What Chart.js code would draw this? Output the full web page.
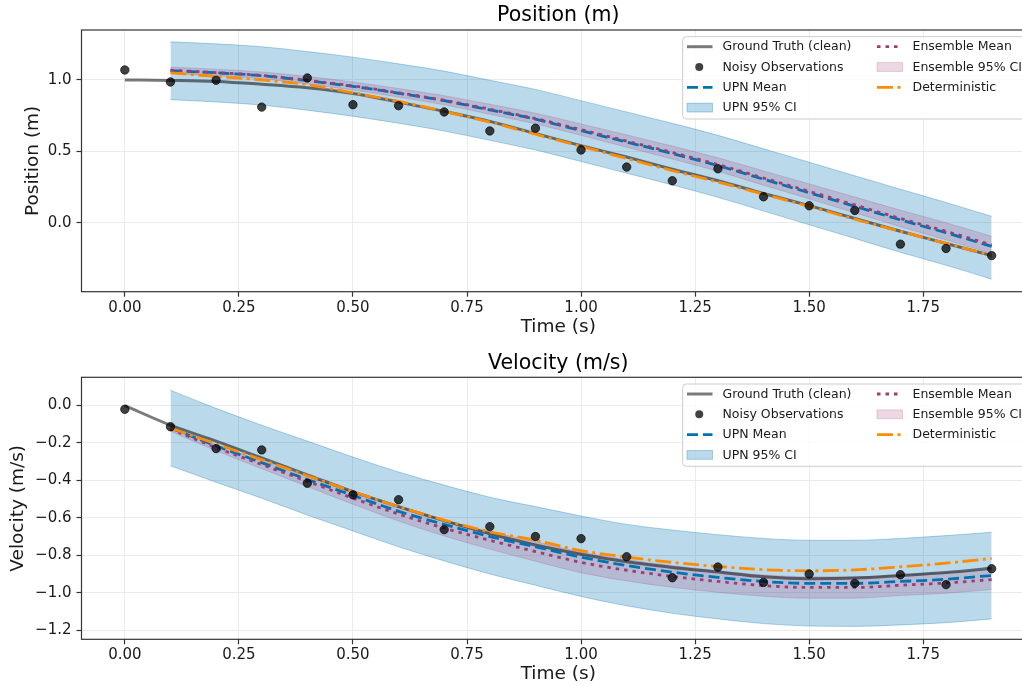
<!DOCTYPE html>
<html>
<head>
<meta charset="utf-8">
<title>Position and velocity estimates</title>
<script src="https://cdn.jsdelivr.net/npm/chart.js@4.4.1/dist/chart.umd.min.js"></script>
<style>
  html, body { margin: 0; padding: 0; background: #ffffff; overflow: hidden; width: 1022px; height: 686px; }
  canvas { display: block; }
</style>
</head>
<body>
<canvas id="posChart" width="1040" height="343"></canvas>
<canvas id="velChart" width="1040" height="343"></canvas>
<script>
// ---- sample times ----
const obsTimes   = [0.0, 0.1, 0.2, 0.3, 0.4, 0.5, 0.6, 0.7, 0.8, 0.9, 1.0, 1.1, 1.2, 1.3, 1.4, 1.5, 1.6, 1.7, 1.8, 1.9];
const modelTimes = [0.1, 0.2, 0.3, 0.4, 0.5, 0.6, 0.7, 0.8, 0.9, 1.0, 1.1, 1.2, 1.3, 1.4, 1.5, 1.6, 1.7, 1.8, 1.9];

// ---- tick labels ----
const timeTicks = [0.0, 0.25, 0.5, 0.75, 1.0, 1.25, 1.5, 1.75];
const posTicks  = [0.0, 0.5, 1.0];
const velTicks  = [0.0, -0.2, -0.4, -0.6, -0.8, -1.0, -1.2];

// ---- position (m) ----
const posTruth = [1.0, 0.997, 0.99, 0.97, 0.945, 0.905, 0.845, 0.78, 0.71, 0.625, 0.54, 0.46, 0.375, 0.295, 0.205, 0.12, 0.03, -0.06, -0.145, -0.23];
const posObs   = [1.07, 0.986, 0.998, 0.81, 1.014, 0.827, 0.82, 0.776, 0.643, 0.662, 0.51, 0.39, 0.294, 0.378, 0.182, 0.119, 0.086, -0.15, -0.18, -0.23];
const posUpnMean = [1.065, 1.05, 1.03, 0.995, 0.955, 0.907, 0.855, 0.79, 0.725, 0.645, 0.565, 0.485, 0.40, 0.305, 0.21, 0.115, 0.02, -0.07, -0.165];
const posUpnHi   = [1.267, 1.253, 1.233, 1.199, 1.16, 1.113, 1.062, 0.998, 0.934, 0.855, 0.776, 0.696, 0.612, 0.518, 0.424, 0.329, 0.235, 0.142, 0.045];
const posUpnLo   = [0.862, 0.846, 0.824, 0.788, 0.746, 0.697, 0.643, 0.577, 0.51, 0.429, 0.347, 0.265, 0.178, 0.082, -0.014, -0.11, -0.207, -0.298, -0.395];
const posEnsMean = [1.068, 1.052, 1.032, 0.998, 0.958, 0.91, 0.858, 0.795, 0.73, 0.652, 0.572, 0.492, 0.408, 0.313, 0.22, 0.125, 0.03, -0.06, -0.155];
const posEnsHi   = [1.09, 1.075, 1.056, 1.024, 0.986, 0.94, 0.89, 0.83, 0.767, 0.692, 0.615, 0.537, 0.455, 0.363, 0.272, 0.18, 0.088, 0.0, -0.095];
const posEnsLo   = [1.046, 1.029, 1.008, 0.972, 0.93, 0.88, 0.826, 0.76, 0.693, 0.612, 0.529, 0.447, 0.361, 0.263, 0.168, 0.07, -0.028, -0.12, -0.215];
const posDet     = [1.05, 1.025, 1.0, 0.967, 0.91, 0.85, 0.78, 0.705, 0.62, 0.535, 0.45, 0.365, 0.285, 0.20, 0.115, 0.025, -0.06, -0.145, -0.23];

// ---- velocity (m/s) ----
const velTruth = [0.0, -0.105, -0.19, -0.28, -0.37, -0.46, -0.54, -0.615, -0.685, -0.745, -0.795, -0.835, -0.865, -0.89, -0.915, -0.925, -0.922, -0.908, -0.892, -0.869];
const velObs   = [-0.02, -0.113, -0.23, -0.237, -0.415, -0.477, -0.503, -0.663, -0.647, -0.70, -0.711, -0.808, -0.92, -0.863, -0.945, -0.90, -0.95, -0.904, -0.957, -0.872];
const velUpnMean = [-0.12, -0.215, -0.305, -0.395, -0.48, -0.565, -0.635, -0.70, -0.755, -0.81, -0.855, -0.89, -0.918, -0.94, -0.95, -0.95, -0.94, -0.928, -0.908];
const velUpnHi   = [0.082, -0.015, -0.105, -0.19, -0.275, -0.355, -0.425, -0.49, -0.54, -0.59, -0.635, -0.665, -0.69, -0.71, -0.72, -0.72, -0.71, -0.695, -0.677];
const velUpnLo   = [-0.322, -0.41, -0.495, -0.585, -0.67, -0.755, -0.83, -0.90, -0.96, -1.02, -1.07, -1.11, -1.14, -1.165, -1.178, -1.18, -1.172, -1.16, -1.14];
const velEnsMean = [-0.125, -0.225, -0.315, -0.405, -0.495, -0.58, -0.655, -0.72, -0.78, -0.838, -0.88, -0.913, -0.94, -0.962, -0.972, -0.972, -0.96, -0.948, -0.93];
const velEnsHi   = [-0.113, -0.208, -0.293, -0.378, -0.463, -0.543, -0.613, -0.673, -0.728, -0.783, -0.823, -0.855, -0.882, -0.905, -0.915, -0.915, -0.905, -0.893, -0.877];
const velEnsLo   = [-0.137, -0.242, -0.337, -0.432, -0.527, -0.617, -0.697, -0.767, -0.832, -0.893, -0.937, -0.971, -0.998, -1.019, -1.029, -1.029, -1.015, -1.003, -0.983];
const velDet     = [-0.12, -0.205, -0.29, -0.375, -0.46, -0.54, -0.612, -0.675, -0.72, -0.775, -0.81, -0.838, -0.86, -0.877, -0.883, -0.878, -0.862, -0.842, -0.817];

// ---- styles ----
const FONT = "'DejaVu Sans', 'Liberation Sans', sans-serif";
Chart.defaults.font.family = FONT;
Chart.defaults.color = '#1a1a1a';

const style = {
  truth: { color: 'rgba(0,0,0,0.52)', width: 3 },
  obs:   { fill: 'rgba(0,0,0,0.74)', edge: 'rgba(0,0,0,0.85)', radius: 4.2 },
  upn:   { color: '#0072B2', width: 2.8, dash: [11, 5] },
  upnCI: { fill: 'rgba(0,114,178,0.27)', edge: 'rgba(0,114,178,0.3)' },
  ens:   { color: '#A23B72', width: 2.8, dash: [3.5, 5] },
  ensCI: { fill: 'rgba(162,59,114,0.2)', edge: 'rgba(162,59,114,0.22)' },
  det:   { color: '#FF8C00', width: 2.8, dash: [16, 4.5, 3, 4.5] }
};

const fmt = (v, d) => Number(v).toFixed(d).replace('-', '\u2212');
const pts = (xs, ys) => xs.map((x, i) => ({ x: x, y: ys[i] }));

// Legend entries laid out in two columns, as drawn inside each panel
const legendItems = [
  { label: 'Ground Truth (clean)', kind: 'line',   s: style.truth, col: 0, row: 0 },
  { label: 'Noisy Observations',   kind: 'marker', s: style.obs,   col: 0, row: 1 },
  { label: 'UPN Mean',             kind: 'line',   s: style.upn,   col: 0, row: 2 },
  { label: 'UPN 95% CI',           kind: 'patch',  s: style.upnCI, col: 0, row: 3 },
  { label: 'Ensemble Mean',        kind: 'line',   s: style.ens,   col: 1, row: 0 },
  { label: 'Ensemble 95% CI',      kind: 'patch',  s: style.ensCI, col: 1, row: 1 },
  { label: 'Deterministic',        kind: 'line',   s: style.det,   col: 1, row: 2 }
];

const pairedLegend = {
  id: 'pairedLegend',
  afterDraw(chart) {
    const { ctx, chartArea } = chart;
    const top = chartArea.top + 6.7;
    const colX = [687, 877];
    const handleLen = 25.5;
    ctx.save();
    ctx.beginPath();
    ctx.roundRect(682.7, top, 346, 82.3, 3.5);
    ctx.fillStyle = 'rgba(255,255,255,0.8)';
    ctx.fill();
    ctx.strokeStyle = '#cccccc';
    ctx.lineWidth = 1;
    ctx.stroke();
    ctx.font = '12.5px ' + FONT;
    ctx.textBaseline = 'middle';
    ctx.textAlign = 'left';
    legendItems.forEach(item => {
      const y = top + 10 + item.row * 20.3;
      const x0 = colX[item.col];
      const x1 = x0 + handleLen;
      const s = item.s;
      if (item.kind === 'line') {
        ctx.beginPath();
        ctx.setLineDash(s.dash || []);
        ctx.lineCap = 'butt';
        ctx.strokeStyle = s.color;
        ctx.lineWidth = s.width;
        ctx.moveTo(x0, y);
        ctx.lineTo(x1, y);
        ctx.stroke();
        ctx.setLineDash([]);
      } else if (item.kind === 'marker') {
        ctx.beginPath();
        ctx.arc((x0 + x1) / 2 - 0.5, y, s.radius - 0.2, 0, Math.PI * 2);
        ctx.fillStyle = s.fill;
        ctx.fill();
      } else {
        ctx.fillStyle = s.fill;
        ctx.fillRect(x0, y - 4.4, handleLen, 8.8);
        ctx.strokeStyle = s.edge;
        ctx.lineWidth = 1;
        ctx.strokeRect(x0, y - 4.4, handleLen, 8.8);
      }
      ctx.fillStyle = '#1a1a1a';
      ctx.fillText(item.label, x1 + 10, y + 0.5);
    });
    ctx.restore();
  }
};

// Full box around each plotting area
const frame = {
  id: 'frame',
  afterDatasetsDraw(chart) {
    const { ctx, chartArea: a } = chart;
    ctx.save();
    ctx.strokeStyle = '#333333';
    ctx.lineWidth = 1.2;
    ctx.strokeRect(a.left, a.top, a.right - a.left, a.bottom - a.top);
    ctx.restore();
  }
};

function lineSet(label, xs, ys, s, order) {
  return {
    label, data: pts(xs, ys), borderColor: s.color, borderWidth: s.width,
    borderDash: s.dash || [], pointRadius: 0, fill: false,
    cubicInterpolationMode: 'monotone', order
  };
}

function bandSets(label, xs, hi, lo, s, order) {
  return [
    { label, data: pts(xs, hi), borderColor: s.edge, borderWidth: 1, backgroundColor: s.fill,
      pointRadius: 0, fill: '+1', cubicInterpolationMode: 'monotone', order },
    { label: label + ' lower', data: pts(xs, lo), borderColor: s.edge, borderWidth: 1,
      pointRadius: 0, fill: false, cubicInterpolationMode: 'monotone', order }
  ];
}

function makeChart(id, p) {
  const datasets = [
    { label: 'Noisy Observations', data: pts(obsTimes, p.obs), showLine: false,
      pointRadius: style.obs.radius, pointHoverRadius: style.obs.radius,
      pointBackgroundColor: style.obs.fill, pointBorderColor: style.obs.edge, pointBorderWidth: 0.8, order: 0 },
    lineSet('Deterministic', modelTimes, p.det, style.det, 1),
    lineSet('Ensemble Mean', modelTimes, p.ensMean, style.ens, 2),
    lineSet('UPN Mean', modelTimes, p.upnMean, style.upn, 3),
    lineSet('Ground Truth (clean)', obsTimes, p.truth, style.truth, 4),
    ...bandSets('Ensemble 95% CI', modelTimes, p.ensHi, p.ensLo, style.ensCI, 5),
    ...bandSets('UPN 95% CI', modelTimes, p.upnHi, p.upnLo, style.upnCI, 6)
  ];

  return new Chart(document.getElementById(id), {
    type: 'line',
    data: { datasets },
    plugins: [frame, pairedLegend],
    options: {
      responsive: false,
      maintainAspectRatio: false,
      devicePixelRatio: 1,
      animation: false,
      events: [],
      layout: { padding: { top: 0, left: 0, right: 4, bottom: 0 } },
      plugins: {
        legend: { display: false },
        tooltip: { enabled: false },
        title: {
          display: true, text: p.title, fullSize: false, color: '#000000',
          font: { size: 20.5, weight: 'normal' },
          padding: { top: p.titleTop, bottom: p.titleBottom }
        }
      },
      scales: {
        x: {
          type: 'linear', min: -0.095, max: 1.995,
          afterBuildTicks: s => { s.ticks = timeTicks.map(v => ({ value: v })); },
          afterFit: s => { s.height = p.xAxisHeight; },
          ticks: { callback: v => fmt(v, 2), font: { size: 15 }, color: '#1a1a1a', padding: 2, maxRotation: 0, autoSkip: false },
          grid: { color: '#ebebeb', lineWidth: 1, tickColor: '#333333', tickLength: 5, tickWidth: 1.2 },
          border: { display: false },
          title: { display: true, text: 'Time (s)', font: { size: 18.5 }, color: '#1a1a1a', padding: { top: 0, bottom: p.xTitlePad } }
        },
        y: {
          type: 'linear', min: p.yMin, max: p.yMax,
          afterBuildTicks: s => { s.ticks = p.yTicks.map(v => ({ value: v })); },
          afterFit: s => { s.width = 81.5; },
          ticks: { callback: v => fmt(v, 1), font: { size: 15 }, color: '#1a1a1a', padding: 5, autoSkip: false },
          grid: { color: '#ebebeb', lineWidth: 1, tickColor: '#333333', tickLength: 5, tickWidth: 1.2 },
          border: { display: false },
          title: { display: true, text: p.yLabel, font: { size: 18.5 }, color: '#1a1a1a', padding: { top: p.yTitlePad, bottom: 0 } }
        }
      }
    }
  });
}

makeChart('posChart', {
  title: 'Position (m)', yLabel: 'Position (m)',
  yMin: -0.483, yMax: 1.35, yTicks: posTicks,
  titleTop: 3.6, titleBottom: 1.8, xAxisHeight: 51.3, xTitlePad: 4.9, yTitlePad: 22.2,
  truth: posTruth, obs: posObs, det: posDet,
  upnMean: posUpnMean, upnHi: posUpnHi, upnLo: posUpnLo,
  ensMean: posEnsMean, ensHi: posEnsHi, ensLo: posEnsLo
});

makeChart('velChart', {
  title: 'Velocity (m/s)', yLabel: 'Velocity (m/s)',
  yMin: -1.249, yMax: 0.151, yTicks: velTicks,
  titleTop: 8.0, titleBottom: 1.7, xAxisHeight: 46.7, xTitlePad: 0.3, yTitlePad: 7.2,
  truth: velTruth, obs: velObs, det: velDet,
  upnMean: velUpnMean, upnHi: velUpnHi, upnLo: velUpnLo,
  ensMean: velEnsMean, ensHi: velEnsHi, ensLo: velEnsLo
});
</script>
</body>
</html>
